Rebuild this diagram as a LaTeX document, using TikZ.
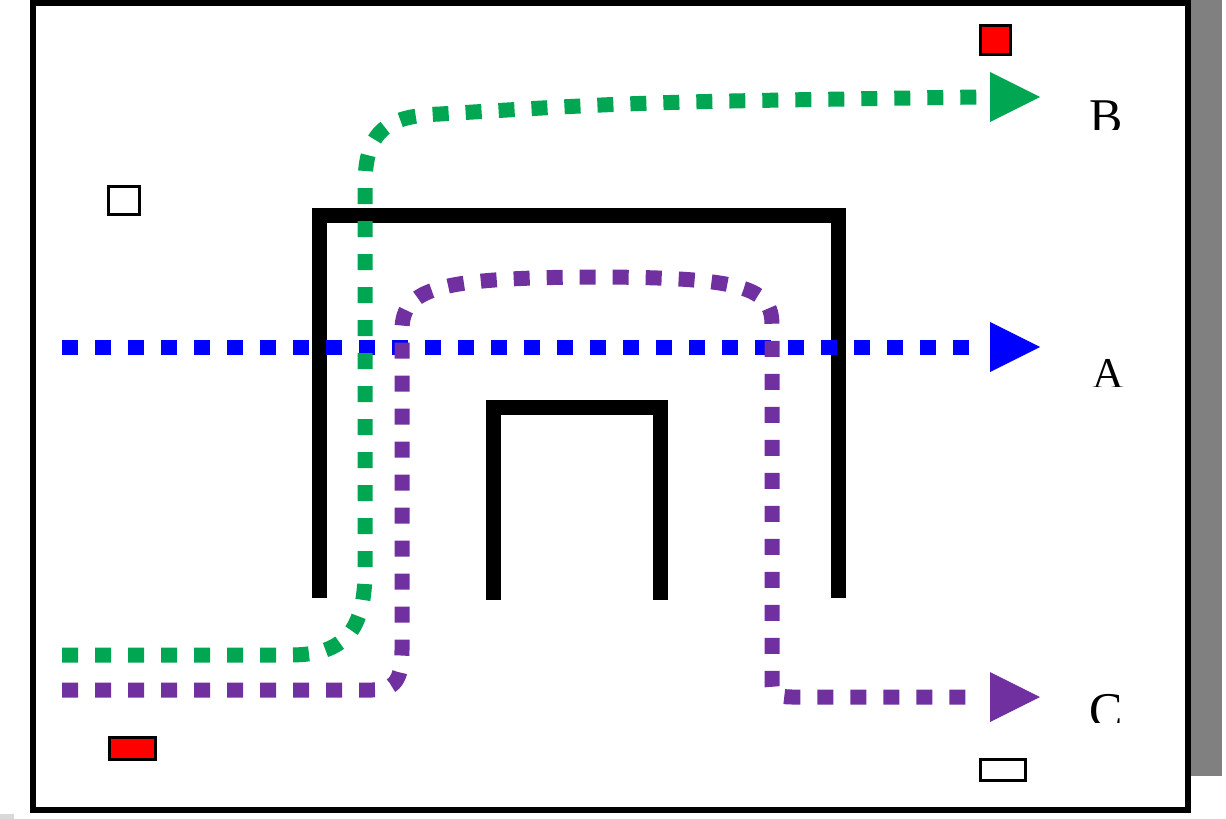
\documentclass[tikz,border=0pt]{standalone}
\usepackage{fontspec}
\setmainfont{Liberation Serif}
\definecolor{flowgreen}{RGB}{0,166,81}
\definecolor{flowblue}{RGB}{0,0,255}
\definecolor{flowpurple}{RGB}{112,48,160}
\tikzset{
  flow/.style={line width=15pt, dash pattern=on 16pt off 17pt, line cap=butt},
  wall/.style={line width=15pt, line join=miter},
  marker/.style={draw=black, line width=3pt, inner sep=0pt},
  lbl/.style={font=\fontsize{50}{50}\selectfont, inner sep=0pt, anchor=base west}
}
\newcommand{\flowtip}[2]{\fill[#1] (#2) ++(12,-25) -- ++(50,25) -- ++(-50,25) -- cycle;}
\begin{document}
\begin{tikzpicture}[x=1pt,y=-1pt]
\useasboundingbox (0,0) rectangle (1226,819);
% shadow and frame
\fill[black!50] (1188,0) rectangle (1222,776);
\fill[black!15] (0,814) rectangle (14,819);
\draw[line width=6pt] (33,3) rectangle (1188,810);
% walls
\draw[wall] (319,598) -- (319,215) -- (838,215) -- (838,598);
\draw[wall] (493,600) -- (493,407) -- (660,407) -- (660,600);
% markers
\node[marker, fill=red, minimum width=30pt, minimum height=29pt] (redTop) at (995.5,40) {};
\node[marker, fill=red, minimum width=46pt, minimum height=22pt] (redBottom) at (132.5,748.5) {};
\node[marker, fill=white, minimum width=31pt, minimum height=28pt] (whiteTop) at (124,200.5) {};
\node[marker, fill=white, minimum width=45pt, minimum height=21pt] (whiteBottom) at (1003,770) {};
% flows
\coordinate (inA) at (62,347);
\coordinate (outA) at (978,347);
\coordinate (inB) at (62,655);
\coordinate (outB) at (978,97);
\coordinate (inC) at (62,690);
\coordinate (outC) at (978,697);
\draw[flow, flowblue] (inA) -- (outA);
\draw[flow, flowgreen] (inB) -- (290,655) .. controls (345,655) and (365,630) .. (365,570)
  -- (365,185) .. controls (365,128) and (390,116) .. (440,114)
  .. controls (640,102) .. (outB);
\draw[flow, flowpurple] (inC) -- (372,690) .. controls (395,690) and (402,680) .. (402,650)
  -- (402,330) .. controls (402,288) and (440,278) .. (590,277)
  .. controls (745,277) and (772,288) .. (772,325)
  -- (772,684) .. controls (772,694) and (778,697) .. (792,697) -- (outC);
\flowtip{flowblue}{outA}
\flowtip{flowgreen}{outB}
\flowtip{flowpurple}{outC}
% labels
\begin{scope}
  \clip (1080,90) rectangle (1140,129);
  \node[lbl] (labB) at (1089,133) {B};
\end{scope}
\begin{scope}
  \clip (1080,340) rectangle (1140,386);
  \node[lbl, font=\fontsize{44}{44}\selectfont] (labA) at (1092,388) {A};
\end{scope}
\begin{scope}
  \clip (1080,680) rectangle (1140,722);
  \node[lbl] (labC) at (1089,727) {C};
\end{scope}
\end{tikzpicture}
\end{document}
